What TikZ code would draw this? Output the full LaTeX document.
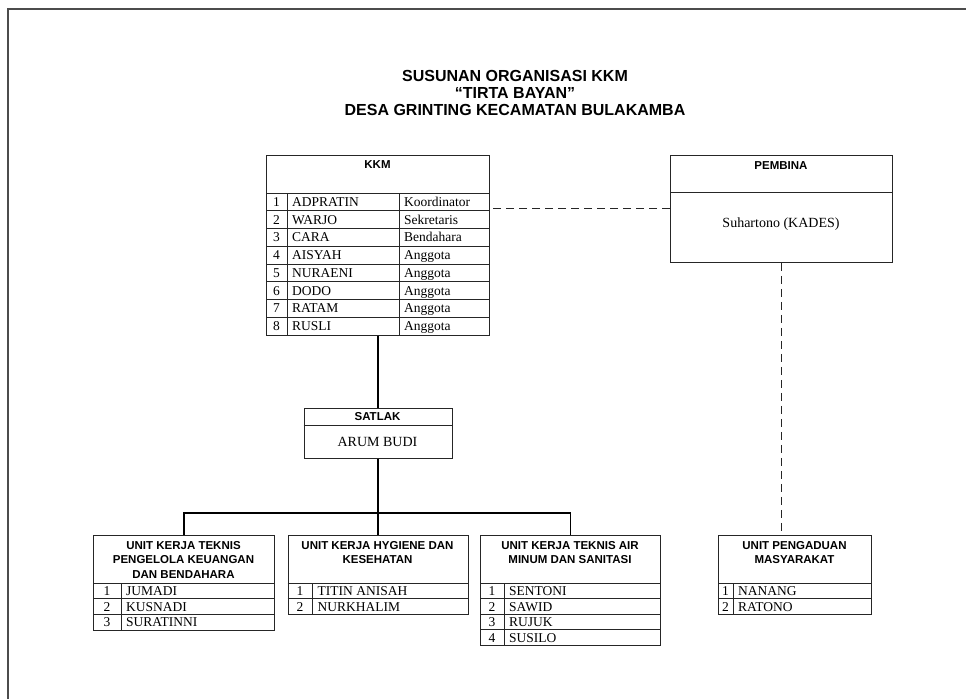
\documentclass[tikz,border=0pt]{standalone}
\usepackage{fontspec}
\setmainfont{Liberation Serif}
\newfontfamily\hdrfont{Liberation Sans}
\begin{document}
\begin{tikzpicture}[x=1pt,y=-1pt,
  box/.style={draw=black!85, line width=0.9pt, anchor=north west, inner sep=0pt},
  inner/.style={draw=black!85, line width=0.7pt},
  conn/.style={draw=black, line width=1.8pt},
  dconn/.style={draw=black!85, line width=1pt, dash pattern=on 8pt off 5pt},
  hdr/.style={font=\hdrfont\bfseries\fontsize{11.5}{14.5}\selectfont, align=center, inner sep=0pt},
  ttl/.style={font=\hdrfont\bfseries\fontsize{16}{16}\selectfont, anchor=base, inner sep=0pt},
  rowtxt/.style={font=\fontsize{13.5}{14}\selectfont, anchor=base west, inner sep=0pt},
  numtxt/.style={font=\fontsize{13.5}{14}\selectfont, anchor=base, inner sep=0pt},
  bigtxt/.style={font=\fontsize{14}{14}\selectfont, inner sep=0pt}]
\useasboundingbox (0,0) rectangle (966,699);
% frame
\draw[draw=black!70, line width=1.5pt] (8,699) -- (8,9) -- (966,9);
% title
\node[ttl] (t1) at (515,81.5) {SUSUNAN ORGANISASI KKM};
\node[ttl] (t2) at (515,98.5) {“TIRTA BAYAN”};
\node[ttl] (t3) at (515,115) {DESA GRINTING KECAMATAN BULAKAMBA};
% KKM table
\node[box, minimum width=223pt, minimum height=180pt] (kkm) at (266,155) {};
\node[hdr] (kkmh) at (377.5,165) {KKM};
\draw[inner] (266,193) -- (489,193);
\foreach \i in {1,...,7} \draw[inner] (266,193+17.75*\i) -- (489,193+17.75*\i);
\draw[inner] (287,193) -- (287,335);
\draw[inner] (399,193) -- (399,335);
\foreach \n/\nm/\r [count=\i] in {1/ADPRATIN/Koordinator,2/WARJO/Sekretaris,3/CARA/Bendahara,4/AISYAH/Anggota,5/NURAENI/Anggota,6/DODO/Anggota,7/RATAM/Anggota,8/RUSLI/Anggota}{
  \node[numtxt] (kn\i) at (276.5,193+17.75*\i-4.5) {\n};
  \node[rowtxt] (km\i) at (292,193+17.75*\i-4.5) {\nm};
  \node[rowtxt] (kr\i) at (404,193+17.75*\i-4.5) {\r};
}
% PEMBINA
\node[box, minimum width=222pt, minimum height=107pt] (pemb) at (670,155) {};
\draw[inner] (670,192) -- (892,192);
\node[hdr] (pembh) at (781,166) {PEMBINA};
\node[bigtxt] (pembn) at (781,224) {Suhartono (KADES)};
% SATLAK
\node[box, minimum width=148pt, minimum height=50pt] (sat) at (303.5,408) {};
\draw[inner] (303.5,425) -- (451.5,425);
\node[hdr] (sath) at (377.5,417) {SATLAK};
\node[bigtxt] (satn) at (377.5,442) {ARUM BUDI};
% bottom units
\node[box, minimum width=181pt, minimum height=94.5pt] (u1) at (93,535) {};
\node[box, minimum width=180pt, minimum height=79pt] (u2) at (287.5,535) {};
\node[box, minimum width=180pt, minimum height=110pt] (u3) at (480,535) {};
\node[box, minimum width=153pt, minimum height=79pt] (u4) at (718,535) {};
\node[hdr] (u1h) at (183.5,559.5) {UNIT KERJA TEKNIS\\PENGELOLA KEUANGAN\\DAN BENDAHARA};
\node[hdr] (u2h) at (377.5,552.5) {UNIT KERJA HYGIENE DAN\\KESEHATAN};
\node[hdr] (u3h) at (570,552.5) {UNIT KERJA TEKNIS AIR\\MINUM DAN SANITASI};
\node[hdr] (u4h) at (794.5,552.5) {UNIT PENGADUAN\\MASYARAKAT};
% unit 1 rows
\draw[inner] (93,583) -- (274,583);
\foreach \i in {1,2} \draw[inner] (93,583+15.5*\i) -- (274,583+15.5*\i);
\draw[inner] (121,583) -- (121,629.5);
\foreach \nm [count=\i] in {JUMADI,KUSNADI,SURATINNI}{
  \node[numtxt] (a\i) at (107,583+15.5*\i-3) {\i};
  \node[rowtxt] (an\i) at (126,583+15.5*\i-3) {\nm};
}
% unit 2 rows
\draw[inner] (287.5,583) -- (467.5,583);
\draw[inner] (287.5,598.5) -- (467.5,598.5);
\draw[inner] (312.5,583) -- (312.5,614);
\foreach \nm [count=\i] in {TITIN ANISAH,NURKHALIM}{
  \node[numtxt] (b\i) at (300,583+15.5*\i-3) {\i};
  \node[rowtxt] (bn\i) at (317.5,583+15.5*\i-3) {\nm};
}
% unit 3 rows
\draw[inner] (480,583) -- (660,583);
\foreach \i in {1,2,3} \draw[inner] (480,583+15.5*\i) -- (660,583+15.5*\i);
\draw[inner] (504,583) -- (504,645);
\foreach \nm [count=\i] in {SENTONI,SAWID,RUJUK,SUSILO}{
  \node[numtxt] (c\i) at (492,583+15.5*\i-3) {\i};
  \node[rowtxt] (cn\i) at (509,583+15.5*\i-3) {\nm};
}
% unit 4 rows
\draw[inner] (718,583) -- (871,583);
\draw[inner] (718,598.5) -- (871,598.5);
\draw[inner] (733,583) -- (733,614);
\foreach \nm [count=\i] in {NANANG,RATONO}{
  \node[numtxt] (d\i) at (725.5,583+15.5*\i-3) {\i};
  \node[rowtxt] (dn\i) at (738,583+15.5*\i-3) {\nm};
}
% connectors
\coordinate (bus) at (377.5,513);
\draw[conn] (kkm.south) -- (sat.north);
\draw[conn] (sat.south) -- (u2.north);
\draw[conn] (u1.north) -- (u1.north |- bus) -- (u3.north |- bus) -- (u3.north);
\draw[dconn] (pemb.west) -- (pemb.west -| kkm.east);
\draw[dconn] (pemb.south) -- (pemb.south |- u4.north);
\end{tikzpicture}
\end{document}
